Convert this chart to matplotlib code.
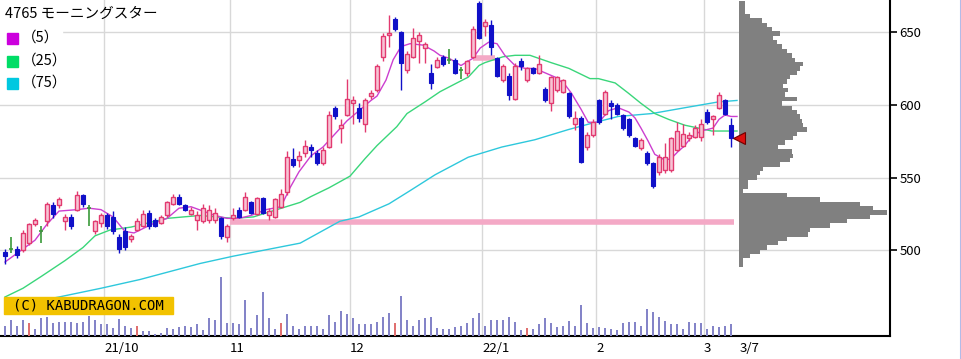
import numpy as np
import matplotlib.pyplot as plt
from matplotlib.patches import Rectangle
from matplotlib.lines import Line2D

plt.rcParams['font.family'] = ['Noto Sans CJK JP', 'DejaVu Sans']

W, H = 962, 359

title = '4765 モーニングスター'

# daily candles, 2021/9/6 .. 2022/3/7 (index = trading day)
opens = [499, 501, 501, 500, 505, 518, 513, 520, 531, 531, 520, 523, 528, 538, 529, 513, 519, 524, 523, 509,
         513, 508, 514, 517, 526, 521, 519, 524, 532, 537, 531, 525, 521, 520, 521, 521, 522, 509, 522, 528,
         528, 533, 525, 536, 524, 523, 530, 540, 563, 562, 567, 571, 567, 560, 571, 598, 584, 593, 601, 598,
         587, 606, 610, 633, 648, 659, 650, 624, 633, 644, 639, 622, 626, 633, 631, 631, 624, 622, 633, 670,
         654, 655, 632, 617, 620, 604, 630, 617, 625, 622, 611, 601, 610, 609, 608, 587, 591, 571, 579, 603,
         594, 601, 600, 593, 590, 577, 570, 567, 560, 554, 555, 555, 569, 572, 577, 578, 578, 595, 590, 598,
         603, 586]
highs = [501, 509, 503, 514, 519, 522, 517, 533, 533, 537, 525, 525, 541, 539, 531, 521, 526, 526, 527, 511,
         516, 511, 522, 528, 528, 522, 524, 534, 539, 539, 532, 530, 527, 532, 531, 529, 523, 518, 529, 530,
         540, 534, 537, 537, 529, 536, 542, 568, 570, 568, 576, 573, 569, 571, 596, 599, 590, 618, 606, 601,
         605, 610, 628, 649, 662, 660, 651, 637, 653, 650, 643, 628, 633, 634, 638, 632, 626, 631, 654, 671,
         659, 658, 633, 628, 622, 629, 632, 626, 626, 634, 612, 620, 620, 618, 609, 596, 592, 581, 590, 604,
         610, 603, 601, 594, 591, 578, 577, 568, 561, 566, 574, 578, 588, 587, 581, 586, 590, 597, 593, 609,
         604, 591]
lows = [491, 498, 495, 499, 504, 517, 505, 517, 522, 529, 514, 515, 527, 530, 517, 511, 516, 515, 511, 498,
        500, 506, 513, 516, 515, 516, 518, 523, 531, 531, 527, 524, 514, 519, 519, 519, 508, 506, 521, 522,
        527, 525, 524, 525, 521, 522, 529, 538, 557, 557, 564, 564, 559, 559, 570, 590, 574, 592, 587, 588,
        581, 604, 609, 630, 640, 651, 610, 622, 632, 629, 629, 611, 625, 627, 628, 621, 618, 620, 632, 645,
        647, 634, 619, 616, 603, 603, 624, 616, 621, 621, 602, 596, 609, 608, 591, 583, 560, 569, 578, 587,
        593, 590, 593, 583, 578, 571, 569, 559, 543, 552, 553, 554, 568, 571, 575, 577, 575, 587, 579, 597,
        593, 571]
closes = [496, 501, 497, 512, 518, 521, 513, 532, 525, 535, 523, 517, 538, 532, 529, 520, 524, 517, 513, 501,
          502, 510, 520, 525, 517, 517, 523, 533, 537, 532, 528, 528, 524, 529, 528, 526, 510, 517, 524, 523,
          537, 526, 536, 526, 527, 535, 539, 564, 559, 565, 572, 569, 560, 569, 593, 592, 586, 604, 603, 591,
          603, 608, 627, 647, 649, 652, 629, 635, 646, 648, 642, 615, 631, 628, 631, 622, 624, 630, 652, 646,
          657, 640, 620, 627, 607, 627, 627, 625, 622, 628, 603, 619, 619, 617, 592, 591, 561, 579, 588, 588,
          609, 599, 594, 584, 579, 572, 576, 560, 544, 564, 564, 577, 582, 580, 579, 584, 587, 588, 592, 607,
          594, 577]

# volume (shares)
volumes = [1000, 1570, 1000, 1570, 1330, 670, 1770, 1900, 1330, 1430, 1430, 1430, 1330, 1430, 2000, 1570, 1230,
           1170, 830, 1730, 1000, 830, 1000, 500, 500, 230, 330, 830, 670, 900, 1000, 900, 1170, 570, 1770, 1570,
           5900, 1330, 1330, 1170, 3570, 830, 2070, 4430, 1770, 670, 1330, 2230, 1000, 670, 1000, 1000, 1000, 670,
           2070, 1430, 2500, 2230, 1830, 1170, 1170, 1170, 1430, 1900, 2330, 1330, 4000, 1570, 1000, 1570, 1830,
           1900, 770, 670, 670, 900, 1000, 1330, 1770, 2300, 1000, 1570, 1570, 1570, 1900, 1430, 570, 830, 670,
           1170, 1770, 1330, 900, 1000, 1500, 1000, 3100, 1330, 830, 900, 830, 670, 570, 1330, 1430, 1430, 1000,
           2670, 2400, 1900, 1500, 1170, 1170, 670, 1430, 1270, 1330, 670, 1000, 900, 1000, 1170]
red_volume_days = [4, 22, 46, 65, 87]

# moving averages (x = trading day index)
ma5_x = [0, 2, 5, 7, 9, 12, 14, 16, 18, 19, 20, 21.5, 23, 25, 27, 29, 31, 33, 35, 37, 39, 41, 43.5, 46,
         47.5, 49, 51, 53, 55, 57, 59, 61, 62, 63.5, 64.7, 66, 67.5, 69.7, 71.5, 72.5, 74, 76, 78, 79.2,
         80.6, 82, 83.3, 85, 86.7, 88.3, 90, 91.7, 93.3, 94.4, 96, 97.2, 99, 100.6, 102.2, 104, 105, 106,
         107.2, 108.3, 110, 111, 112.2, 113.3, 114.4, 116, 118, 119, 120, 121, 122]
ma5_y = [492, 498, 507, 518, 527, 528, 529, 528, 523, 518, 513, 512, 515, 519, 522, 529, 530, 527, 524, 522,
         522, 524, 528, 530, 543, 554, 565, 571, 580, 589, 596, 603, 606, 617, 631, 640, 642, 641, 637, 634,
         632, 627, 632, 639, 643, 642, 634, 627, 625, 625, 622, 619, 614, 608, 597, 588, 588, 596, 598, 595,
         591, 584, 575, 566, 562, 563, 568, 572, 578, 582, 584, 590, 593, 592, 592]
ma25_x = [0, 3, 6, 10, 13, 15, 17.5, 21, 25, 27, 32.5, 38, 41.4, 45.3, 49.2, 51, 54, 57.5, 60, 62, 65.3, 67,
          70, 72.5, 75.3, 77.2, 79, 80, 83, 85, 87.5, 91, 94, 97.5, 98.9, 101.7, 103.9, 106, 108.3, 110.6,
          113.3, 115.6, 117.8, 120, 122]
ma25_y = [468, 474, 482, 493, 502, 510, 514, 516, 520, 522, 524, 522, 523, 528, 533, 537, 543, 551, 563, 572,
          585, 594, 602, 609, 615, 619, 627, 629, 633, 634, 634, 629, 625, 618, 618, 615, 608, 601, 594, 590,
          586, 584, 582, 582, 582]
ma75_x = [0, 9, 16, 22.5, 32.5, 38, 49.2, 55.8, 59, 64, 67.5, 71.7, 77.2, 82.8, 88.3, 93.9, 97.5, 102.2,
          107.8, 113.3, 118.9, 122]
ma75_y = [461, 468, 474, 480, 491, 496, 505, 520, 523, 532, 541, 552, 564, 571, 576, 583, 587, 592, 594, 598,
          602, 603]

# price-by-volume profile (3-yen bins)
profile_price = list(range(670, 487, -3))
profile_vol = [6, 6, 6, 11, 23, 28, 33, 41, 34, 38, 43, 48, 53, 56, 64, 61, 58, 51, 48, 44, 49, 46, 58, 43,
               53, 58, 61, 63, 64, 68, 58, 54, 46, 39, 53, 54, 51, 41, 24, 21, 18, 9, 9, 4, 48, 81, 121, 134,
               148, 131, 108, 91, 71, 69, 48, 39, 28, 21, 11, 4, 4]

# highlighted price bands (level, from day, to day)
bands = [(519.5, 37.5, 121.5), (632.5, 78, 81.7)]

month_starts = [17, 38, 58, 80, 99, 117]
month_labels = ['21/10', '11', '12', '22/1', '2', '3']
last_label = '3/7'
price_ticks = [500, 550, 600, 650]

n = len(closes)
idx = np.arange(n)
o, hi, lo, c = map(np.array, (opens, highs, lows, closes))

rect = [0, 23 / H, 890 / W, 336 / H]
fig = plt.figure(figsize=(W / 100, H / 100), dpi=100)
ax = fig.add_axes(rect)
ax.set_xlim(-5 / 6, 885 / 6)
ax.set_ylim(441.2, 672)

for g in month_starts:
    ax.axvline(g - 0.5, color='#d8d8d8', lw=1, zorder=0.5)
for p in price_ticks:
    ax.axhline(p, color='#d8d8d8', lw=1, zorder=0.5)

for lvl, x0, x1 in bands:
    ax.hlines(lvl, x0, x1, color='#f4a9c6', lw=4, zorder=1.5)

# moving averages
ax.plot(ma75_x, ma75_y, color='#2ec8dc', lw=1, zorder=2)
ax.plot(ma25_x, ma25_y, color='#3ad67a', lw=1, zorder=2)
ax.plot(ma5_x, ma5_y, color='#cc3fd0', lw=1, zorder=2.2)

up = c > o
down = c < o
flat = c == o
red, blue, green = '#e23a70', '#1010c8', '#3a9a3a'

ax.vlines(idx[up], lo[up], hi[up], color=red, lw=1, zorder=3)
ax.vlines(idx[down], lo[down], hi[down], color=blue, lw=1, zorder=3)
ax.vlines(idx[flat], lo[flat], hi[flat], color=green, lw=1.2, zorder=3)
ax.bar(idx[up], (c - o)[up], bottom=o[up], width=0.7, color='#f7c3d4', edgecolor=red, lw=1, zorder=4)
ax.bar(idx[down], (o - c)[down], bottom=c[down], width=0.7, color=blue, edgecolor=blue, lw=0.8, zorder=4)
ax.hlines(o[flat], idx[flat] - 0.35, idx[flat] + 0.35, color=green, lw=1.2, zorder=4)

ax.spines['left'].set_visible(False)
ax.spines['top'].set_visible(False)
ax.spines['right'].set_linewidth(1.5)
ax.spines['bottom'].set_linewidth(1.5)
ax.yaxis.tick_right()
ax.set_yticks(price_ticks)
ax.tick_params(axis='y', length=5, width=1.2, pad=2, labelsize=9.5)
ax.set_xticks([m - 0.5 for m in month_starts] + [n + 0.5], month_labels + [last_label])
ax.tick_params(axis='x', length=0, pad=4, labelsize=9.5)
for lbl in ax.get_xticklabels():
    lbl.set_ha('left')

# legend block
ax.add_patch(Rectangle((0, 1 - 92 / 336), 62 / 890, 66 / 336, transform=ax.transAxes,
                       color='white', zorder=1))
fig.text(5 / W, 1 - 14 / H, title, fontsize=10.5, va='center')
for (col, lab), yy in zip([('#cc00dd', '（5）'), ('#00dd66', '（25）'), ('#00c8e0', '（75）')], [38, 61, 83]):
    fig.add_artist(Rectangle((7 / W, 1 - (yy + 5.5) / H), 11 / W, 11 / H, color=col,
                             transform=fig.transFigure))
    fig.text(22 / W, 1 - yy / H, lab, fontsize=10.5, va='center')

# copyright box
ax.add_patch(Rectangle((4 / 890, 1 - 314 / 336), 169 / 890, 17 / 336, transform=ax.transAxes,
                       color='#f2c200', zorder=6))
ax.text(88 / 890, 1 - 305.5 / 336, '(C) KABUDRAGON.COM', transform=ax.transAxes, ha='center',
        va='center', fontsize=10, family='DejaVu Sans Mono', zorder=7)

# volume
ax_v = fig.add_axes(rect, sharex=ax)
ax_v.patch.set_visible(False)
ax_v.axis('off')
ax_v.set_ylim(0, 33600)
vcol = ['#e07070' if i in red_volume_days else '#8484c8' for i in range(n)]
ax_v.bar(idx, volumes, width=0.32, color=vcol)

# price-by-volume
ax_p = fig.add_axes([739 / W, 23 / H, 151 / W, 336 / H])
ax_p.patch.set_visible(False)
ax_p.axis('off')
ax_p.set_xlim(0, 151)
ax_p.set_ylim(441.2, 672)
ax_p.barh(profile_price, profile_vol, height=3, color='#808080')
ax_p.plot(0, closes[-1], marker='<', ms=8, color='#dd1010', mec='#700000', mew=0.8, clip_on=False)

fig.add_artist(Line2D([961.5 / W] * 2, [0, 1], color='#b3bbe8', lw=1.5))

fig.savefig('out.png', dpi=100)
